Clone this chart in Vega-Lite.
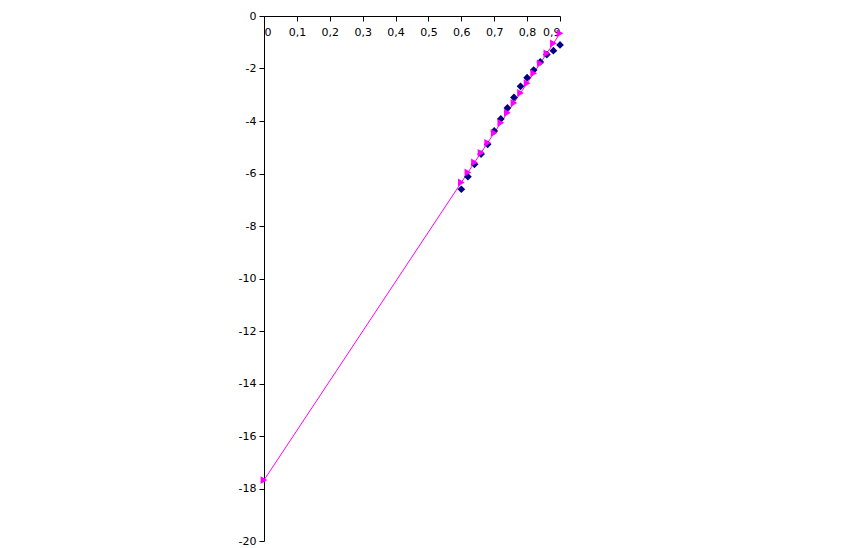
{
  "$schema": "https://vega.github.io/schema/vega-lite/v6.json",
  "autosize": {"type": "none"},
  "padding": {"left": 264, "top": 16, "right": 306, "bottom": 7},
  "width": 296,
  "height": 525,
  "background": "white",
  "config": {
    "view": {"stroke": null},
    "axis": {
      "grid": false,
      "domainColor": "black",
      "tickColor": "black",
      "labelColor": "black",
      "labelFont": "DejaVu Sans",
      "labelFontSize": 11,
      "tickSize": 5,
      "title": null
    }
  },
  "datasets": {
    "diamonds": [
      {"x": 0.60, "y": -6.60},
      {"x": 0.62, "y": -6.12},
      {"x": 0.64, "y": -5.65},
      {"x": 0.66, "y": -5.26},
      {"x": 0.68, "y": -4.89},
      {"x": 0.70, "y": -4.38},
      {"x": 0.72, "y": -3.92},
      {"x": 0.74, "y": -3.50},
      {"x": 0.76, "y": -3.10},
      {"x": 0.78, "y": -2.68},
      {"x": 0.80, "y": -2.35},
      {"x": 0.82, "y": -2.06},
      {"x": 0.84, "y": -1.75},
      {"x": 0.86, "y": -1.47},
      {"x": 0.88, "y": -1.32},
      {"x": 0.90, "y": -1.10}
    ],
    "triangles": [
      {"x": 0.00, "y": -17.68},
      {"x": 0.60, "y": -6.34},
      {"x": 0.62, "y": -5.96},
      {"x": 0.64, "y": -5.58},
      {"x": 0.66, "y": -5.21},
      {"x": 0.68, "y": -4.83},
      {"x": 0.70, "y": -4.45},
      {"x": 0.72, "y": -4.07},
      {"x": 0.74, "y": -3.69},
      {"x": 0.76, "y": -3.31},
      {"x": 0.78, "y": -2.93},
      {"x": 0.80, "y": -2.56},
      {"x": 0.82, "y": -2.18},
      {"x": 0.84, "y": -1.80},
      {"x": 0.86, "y": -1.42},
      {"x": 0.88, "y": -1.04},
      {"x": 0.90, "y": -0.66}
    ]
  },
  "encoding": {
    "x": {
      "field": "x", "type": "quantitative",
      "scale": {"domain": [0, 0.9], "nice": false, "zero": false},
      "axis": {
        "orient": "bottom", "offset": -525,
        "values": [0, 0.1, 0.2, 0.3, 0.4, 0.5, 0.6, 0.7, 0.8, 0.9],
        "labelExpr": "replace(toString(datum.value), '.', ',')",
        "labelPadding": 5
      }
    },
    "y": {
      "field": "y", "type": "quantitative",
      "scale": {"domain": [-20, 0], "nice": false, "zero": false},
      "axis": {
        "values": [0, -2, -4, -6, -8, -10, -12, -14, -16, -18, -20],
        "labelExpr": "toString(datum.value)",
        "labelPadding": 3
      }
    }
  },
  "layer": [
    {
      "data": {"name": "triangles"},
      "mark": {"type": "line", "color": "#ff00ff", "strokeWidth": 1},
      "encoding": {"order": {"field": "x", "type": "quantitative"}}
    },
    {
      "data": {"name": "diamonds"},
      "mark": {"type": "point", "shape": "diamond", "filled": true, "color": "#000080", "size": 60, "opacity": 1}
    },
    {
      "data": {"name": "triangles"},
      "mark": {"type": "point", "shape": "triangle-right", "filled": true, "color": "#ff00ff", "size": 60, "opacity": 1}
    }
  ]
}
